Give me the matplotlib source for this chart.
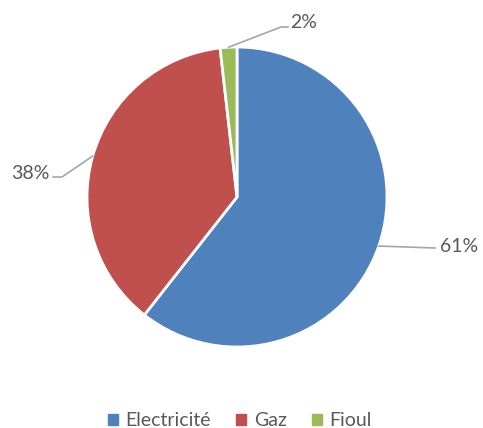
import matplotlib
matplotlib.use('Agg')
import numpy as np
import matplotlib.pyplot as plt

labels = ["Electricité", "Gaz", "Fioul"]
shares = [60.6, 37.6, 1.8]
pct_labels = ["61%", "38%", "2%"]
colors = ["#4F81BD", "#C0504D", "#9BBB59"]

plt.rcParams['font.family'] = ['Lato', 'DejaVu Sans']

W, H = 483, 428
fig = plt.figure(figsize=(W / 100, H / 100), dpi=100)
cx, cy, r = 237, 197, 150
ax = fig.add_axes([(cx - r) / W, (H - cy - r) / H, 2 * r / W, 2 * r / H])

wedges, _ = ax.pie(shares, colors=colors, startangle=90, counterclock=False,
                   radius=1, wedgeprops=dict(edgecolor='white', linewidth=2))
ax.set_xlim(-1, 1)
ax.set_ylim(-1, 1)
ax.set_aspect('equal')
ax.axis('off')

def px(x, y):
    # pixel position -> data coords
    return (x - cx) / r, (cy - y) / r

# leader bends / ends (pixels) and text anchors
leaders = [
    ([(435, 248)], (440, 246), 'left'),
    ([(62, 177), (53, 177)], (50, 173), 'right'),
    ([(281, 27), (288, 27)], (290, 22), 'left'),
]
for w, txt, (pts, tpos, ha) in zip(wedges, pct_labels, leaders):
    ang = np.deg2rad((w.theta1 + w.theta2) / 2)
    xs = [np.cos(ang)] + [px(*p)[0] for p in pts]
    ys = [np.sin(ang)] + [px(*p)[1] for p in pts]
    ax.plot(xs, ys, color='#A6A6A6', lw=1.2, clip_on=False)
    tx, ty = px(*tpos)
    ax.text(tx, ty, txt, ha=ha, va='center', fontsize=14, color='#595959')

handles = [plt.Rectangle((0, 0), 1, 1, color=c) for c in colors]
fig.legend(handles, labels, loc='center', bbox_to_anchor=(240 / W, 1 - 421 / H),
           ncol=3, frameon=False, fontsize=14, handlelength=0.5, handleheight=0.5,
           handletextpad=0.4, columnspacing=1.3, labelcolor='#595959')

fig.savefig('out.png', dpi=100)
